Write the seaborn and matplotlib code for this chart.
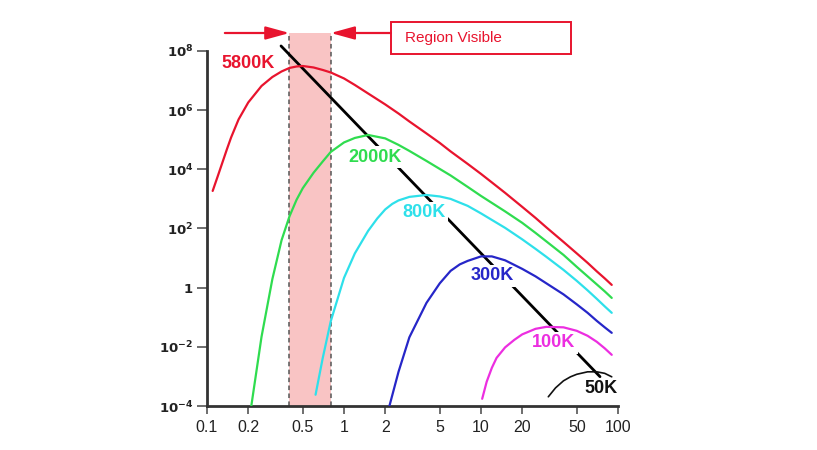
import matplotlib
matplotlib.use("Agg")
import matplotlib.pyplot as plt
from matplotlib.patches import Rectangle
import seaborn as sns

# Blackbody spectral radiance samples: wavelength (micrometres) and radiance
lam_5800 = [0.11, 0.12, 0.13, 0.14, 0.15, 0.17, 0.2, 0.25, 0.3, 0.35, 0.4, 0.45, 0.5,
            0.6, 0.7, 0.8, 1.0, 1.2, 1.5, 2, 2.5, 3, 4, 5, 6, 8, 10, 12, 15, 20, 25,
            30, 40, 50, 60, 70, 80, 90]
rad_5800 = [1.86e3, 5.98e3, 1.78e4, 4.89e4, 1.20e5, 4.86e5, 1.82e6, 6.57e6, 1.32e7,
            2.03e7, 2.67e7, 2.99e7, 3.11e7, 2.77e7, 2.28e7, 1.88e7, 1.18e7, 7.1e6,
            3.66e6, 1.56e6, 7.7e5, 4.15e5, 1.63e5, 7.8e4, 4.03e4, 1.52e4, 7.0e3,
            3.61e3, 1.60e3, 537, 228, 109, 35.2, 14.4, 6.9, 3.56, 2.06, 1.24]

lam_2000 = [0.2, 0.25, 0.3, 0.35, 0.4, 0.45, 0.5, 0.6, 0.7, 0.8, 1.0, 1.2, 1.5, 2, 2.5,
            3, 4, 5, 6, 8, 10, 12, 15, 20, 25, 30, 40, 50, 60, 70, 80, 90]
rad_2000 = [2.0e-5, 0.0218, 1.95, 39.9, 258, 925, 2.3e3, 7.7e3, 1.85e4, 3.87e4, 8.1e4,
            1.15e5, 1.45e5, 1.11e5, 6.7e4, 4.19e4, 1.92e4, 1.03e4, 6.2e3, 2.54e3,
            1.26e3, 733, 378, 155, 71, 36.6, 12.8, 5.05, 2.41, 1.29, 0.75, 0.45]

lam_800 = [0.62, 0.7, 0.8, 1.0, 1.2, 1.5, 1.75, 2, 2.25, 2.5, 3, 4, 5, 6, 8, 10, 12,
           15, 20, 25, 30, 40, 50, 60, 70, 80, 90]
rad_800 = [2.4e-4, 4.25e-3, 0.0726, 2.14, 14.4, 83, 219, 442, 678, 889, 1.17e3,
           1.36e3, 1.21e3, 1.0e3, 581, 324, 195, 105, 42.9, 20.5, 11.0, 3.99, 1.70,
           0.81, 0.419, 0.233, 0.141]

lam_300 = [2.1, 2.5, 3, 4, 5, 6, 7, 8, 10, 12, 15, 20, 25, 30, 40, 50, 60, 70, 80, 90]
rad_300 = [6.9e-5, 1.43e-3, 0.021, 0.306, 1.40, 3.70, 6.12, 8.04, 11.4, 11.4, 8.4,
           4.31, 2.41, 1.40, 0.594, 0.273, 0.141, 0.0755, 0.0456, 0.0297]

lam_100 = [10.2, 11, 12, 13, 15, 17.5, 20, 25, 30, 40, 50, 60, 70, 80, 90]
rad_100 = [1.75e-4, 6.6e-4, 1.95e-3, 4.25e-3, 9.6e-3, 0.0172, 0.0264, 0.0406, 0.0474,
           0.0456, 0.0348, 0.0236, 0.0148, 8.9e-3, 5.37e-3]

lam_50 = [31, 35, 40, 45, 50, 60, 70, 80, 90]
rad_50 = [2.05e-4, 4.1e-4, 7.1e-4, 9.7e-4, 1.18e-3, 1.43e-3, 1.43e-3, 1.27e-3, 9.7e-4]

# Wien displacement locus (peak of each curve)
wien_lam = [0.347, 73.9]
wien_peak = [1.48e8, 9.8e-4]

# Visible band limits (micrometres)
visible_band = [0.4, 0.8]

x_ticks = [0.1, 0.2, 0.5, 1, 2, 5, 10, 20, 50, 100]
x_tick_labels = ["0.1", "0.2", "0.5", "1", "2", "5", "10", "20", "50", "100"]
y_ticks = [1e-4, 1e-2, 1, 1e2, 1e4, 1e6, 1e8]
y_tick_labels = [r"$\mathbf{10^{-4}}$", r"$\mathbf{10^{-2}}$", r"$\mathbf{1}$",
                 r"$\mathbf{10^{2}}$", r"$\mathbf{10^{4}}$", r"$\mathbf{10^{6}}$",
                 r"$\mathbf{10^{8}}$"]

RED = "#e8142e"
curves = [
    ("5800K", lam_5800, rad_5800, RED, 1.6, (0.199, 3.9e7)),
    ("2000K", lam_2000, rad_2000, "#2fdc4f", 1.6, (1.68, 2.6e4)),
    ("800K", lam_800, rad_800, "#2ee0ea", 1.6, (3.84, 337)),
    ("300K", lam_300, rad_300, "#2626c8", 1.6, (12.0, 2.5)),
    ("100K", lam_100, rad_100, "#ec2ee0", 1.6, (34.1, 0.0136)),
    ("50K", lam_50, rad_50, "#111111", 1.2, (75.2, 3.8e-4)),
]

sns.set_theme(style="ticks")
plt.rcParams["font.family"] = ["Liberation Sans", "DejaVu Sans"]
plt.rcParams["mathtext.fontset"] = "dejavusans"

fig = plt.figure(figsize=(8.17, 4.5), dpi=100)
fig.patch.set_facecolor("white")
ax = fig.add_axes([207 / 817, 44 / 450, 411 / 817, 373 / 450])
ax.set_facecolor("white")
ax.set_xscale("log")
ax.set_yscale("log")

# visible band
ax.axvspan(visible_band[0], visible_band[1], color="#f9c4c4", lw=0, zorder=1)
for xv in visible_band:
    ax.axvline(xv, color="#555555", lw=1.1, ls=(0, (3, 2.2)), zorder=1.5)

# Wien line
sns.lineplot(x=wien_lam, y=wien_peak, ax=ax, color="black", lw=2.0,
             sort=False, estimator=None, zorder=2)

for name, lam, rad, color, lw, pos in curves:
    sns.lineplot(x=lam, y=rad, ax=ax, color=color, lw=lw,
                 sort=False, estimator=None, zorder=4)
    ax.text(pos[0], pos[1], name, color=color, fontsize=13, fontweight="bold",
            ha="center", va="center", zorder=3,
            bbox=dict(boxstyle="square,pad=0.12", fc="white", ec="none"))

ax.set_xlim(0.1, 100)
ax.set_ylim(1e-4, 10 ** 8.608)

ax.set_xticks(x_ticks)
ax.set_xticklabels(x_tick_labels, fontsize=11.5, color="#222222")
ax.set_yticks(y_ticks)
ax.set_yticklabels(y_tick_labels, fontsize=9.5, color="#222222")
ax.minorticks_off()
ax.tick_params(axis="x", length=6, width=1.2, color="#555555", pad=4)
ax.tick_params(axis="y", length=7, width=1.2, color="#555555", pad=3)

for side in ("top", "right"):
    ax.spines[side].set_visible(False)
for side in ("left", "bottom"):
    ax.spines[side].set_color("#333333")
    ax.spines[side].set_linewidth(2)
ax.spines["left"].set_bounds(1e-4, 1e8)
ax.set_xlabel("")
ax.set_ylabel("")
ax.grid(False)

# arrows pointing at the visible band edges
arrow_style = dict(arrowstyle="-|>,head_length=0.8,head_width=0.22", color=RED,
                   lw=1.6, mutation_scale=18, shrinkA=0, shrinkB=0)
ax.annotate("", xy=(visible_band[0], 1.0), xytext=(0.135, 1.0),
            xycoords=("data", "axes fraction"), textcoords=("data", "axes fraction"),
            arrowprops=arrow_style, annotation_clip=False)
ax.annotate("", xy=(visible_band[1], 1.0), xytext=(2.2, 1.0),
            xycoords=("data", "axes fraction"), textcoords=("data", "axes fraction"),
            arrowprops=arrow_style, annotation_clip=False)

fig.add_artist(Rectangle((391 / 817, 396 / 450), 180 / 817, 32 / 450,
                         transform=fig.transFigure, fill=False, ec=RED, lw=1.4))
fig.text(405 / 817, 412 / 450, "Region Visible", color=RED, fontsize=11, va="center")

fig.savefig("out.png", dpi=100, facecolor="white")
